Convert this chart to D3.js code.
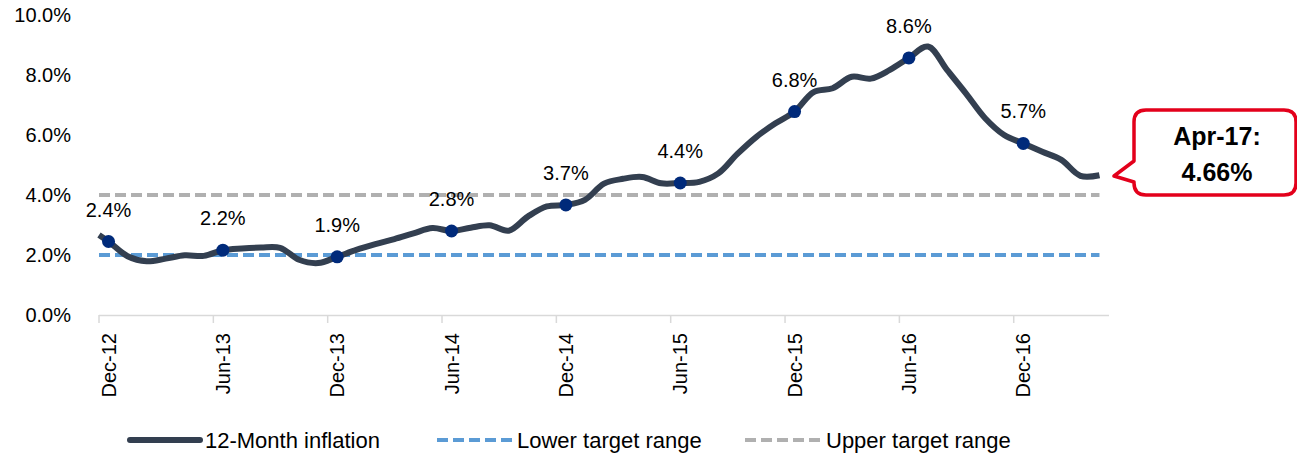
<!DOCTYPE html>
<html>
<head>
<meta charset="utf-8">
<script src="https://cdn.jsdelivr.net/npm/d3@7"></script>
<style>
  body { margin: 0; background: #fff; }
  svg { display: block; font-family: "Liberation Sans", Arial, sans-serif; }
</style>
</head>
<body>
<svg width="1297" height="453"></svg>
<script>
// monthly categories, Dec-12 .. Apr-17
const months = [
  'Dec-12','Jan-13','Feb-13','Mar-13','Apr-13','May-13','Jun-13','Jul-13','Aug-13','Sep-13','Oct-13','Nov-13',
  'Dec-13','Jan-14','Feb-14','Mar-14','Apr-14','May-14','Jun-14','Jul-14','Aug-14','Sep-14','Oct-14','Nov-14',
  'Dec-14','Jan-15','Feb-15','Mar-15','Apr-15','May-15','Jun-15','Jul-15','Aug-15','Sep-15','Oct-15','Nov-15',
  'Dec-15','Jan-16','Feb-16','Mar-16','Apr-16','May-16','Jun-16','Jul-16','Aug-16','Sep-16','Oct-16','Nov-16',
  'Dec-16','Jan-17','Feb-17','Mar-17','Apr-17'
]
const inflation = [
  2.45, 1.96, 1.79, 1.88, 1.99, 1.97, 2.16, 2.22, 2.25, 2.24, 1.84, 1.73,
  1.94, 2.17, 2.36, 2.53, 2.72, 2.90, 2.80, 2.91, 2.99, 2.81, 3.28, 3.62,
  3.67, 3.84, 4.38, 4.54, 4.60, 4.39, 4.40, 4.44, 4.72, 5.37, 5.94, 6.39,
  6.78, 7.43, 7.56, 7.94, 7.88, 8.17, 8.57, 8.95, 8.17, 7.38, 6.56, 6.00,
  5.72, 5.44, 5.17, 4.64, 4.66
]
const startValue = 2.67      // where the line enters at the left edge
const lowerTarget = 2.0
const upperTarget = 4.0
const tickLabels = ['Dec-12','Jun-13','Dec-13','Jun-14','Dec-14','Jun-15','Dec-15','Jun-16','Dec-16']
const pointLabels = ['2.4%','2.2%','1.9%','2.8%','3.7%','4.4%','6.8%','8.6%','5.7%']
const yTicks = [0, 2, 4, 6, 8, 10]
const seriesNames = ['12-Month inflation', 'Lower target range', 'Upper target range']
const callout = ['Apr-17:', '4.66%']

const svg = d3.select('svg')
const plotLeft = 99, plotRight = 1109, plotTop = 15, plotBottom = 315

const x = d3.scaleLinear().domain([0, months.length]).range([plotLeft, plotRight])
const y = d3.scaleLinear().domain([0, 10]).range([plotBottom, plotTop])
const xc = i => x(i + 0.5)

const fmt = d3.format('.1f')

// y axis labels
svg.append('g').selectAll('text')
  .data(yTicks).enter().append('text')
  .attr('x', 71).attr('y', d => y(d)).attr('dy', '0.35em')
  .attr('text-anchor', 'end')
  .attr('font-size', 20).attr('fill', '#000')
  .text(d => fmt(d) + '%')

// x axis
const xAxis = svg.append('g')
xAxis.append('line')
  .attr('x1', plotLeft).attr('x2', plotRight).attr('y1', plotBottom + 0.5).attr('y2', plotBottom + 0.5)
  .attr('stroke', '#d9d9d9').attr('stroke-width', 1.5)
xAxis.selectAll('.tick')
  .data(d3.range(0, months.length, 6)).enter().append('line')
  .attr('x1', d => x(d)).attr('x2', d => x(d))
  .attr('y1', plotBottom).attr('y2', plotBottom + 8)
  .attr('stroke', '#d9d9d9').attr('stroke-width', 1.5)
xAxis.selectAll('text')
  .data(tickLabels).enter().append('text')
  .attr('transform', d => `translate(${xc(months.indexOf(d))},333) rotate(-90)`)
  .attr('dy', '0.35em')
  .attr('text-anchor', 'end')
  .attr('font-size', 20).attr('fill', '#000')
  .text(d => d)

// series points: entry at the left edge, then one per month centre
const pts = [[x(0), startValue]].concat(inflation.map((v, i) => [xc(i), v]))

const targetLine = val => d3.line()([[x(0), y(val)], [xc(months.length - 1), y(val)]])

svg.append('path')
  .attr('d', targetLine(lowerTarget))
  .attr('fill', 'none').attr('stroke', '#5b9bd5').attr('stroke-width', 4)
  .attr('stroke-dasharray', '11,5')
svg.append('path')
  .attr('d', targetLine(upperTarget))
  .attr('fill', 'none').attr('stroke', '#b0b0b0').attr('stroke-width', 4)
  .attr('stroke-dasharray', '11,5')

const lineGen = d3.line()
  .x(d => d[0]).y(d => y(d[1]))
  .curve(d3.curveCatmullRom.alpha(0.5))

svg.append('path')
  .attr('d', lineGen(pts))
  .attr('fill', 'none').attr('stroke', '#333f50').attr('stroke-width', 6)
  .attr('stroke-linejoin', 'round').attr('stroke-linecap', 'butt')

// markers + labels every 6 months
const marked = d3.range(0, months.length, 6)
svg.append('g').selectAll('circle')
  .data(marked).enter().append('circle')
  .attr('cx', i => xc(i)).attr('cy', i => y(inflation[i]))
  .attr('r', 6.5).attr('fill', '#002a7a')
svg.append('g').selectAll('text')
  .data(marked).enter().append('text')
  .attr('x', i => xc(i)).attr('y', i => y(inflation[i]) - 32).attr('dy', '0.35em')
  .attr('text-anchor', 'middle')
  .attr('font-size', 20).attr('fill', '#000')
  .text((i, k) => pointLabels[k])

// callout
const bx0 = 1134, bx1 = 1296, by0 = 110, by1 = 195, r = 12
const p = d3.path()
p.moveTo(bx0 + r, by0)
p.lineTo(bx1 - r, by0)
p.quadraticCurveTo(bx1, by0, bx1, by0 + r)
p.lineTo(bx1, by1 - r)
p.quadraticCurveTo(bx1, by1, bx1 - r, by1)
p.lineTo(bx0 + r, by1)
p.quadraticCurveTo(bx0, by1, bx0, by1 - r)
p.lineTo(bx0, 182)
p.lineTo(1114, 176)
p.lineTo(bx0, 161)
p.lineTo(bx0, by0 + r)
p.quadraticCurveTo(bx0, by0, bx0 + r, by0)
p.closePath()
svg.append('path').attr('d', p.toString())
  .attr('fill', '#fff').attr('stroke', '#e3001b').attr('stroke-width', 3.5)
  .attr('stroke-linejoin', 'round')
svg.append('g').selectAll('text')
  .data(callout).enter().append('text')
  .attr('x', 1217).attr('y', (d, i) => 145 + i * 36)
  .attr('text-anchor', 'middle')
  .attr('font-size', 25).attr('font-weight', 'bold').attr('fill', '#000')
  .text(d => d)

// legend
const legend = [
  { x0: 130, x1: 200, tx: 205, color: '#333f50', w: 6, dash: null },
  { x0: 437, x1: 512, tx: 517, color: '#5b9bd5', w: 4, dash: '11,5' },
  { x0: 745, x1: 822, tx: 826, color: '#b0b0b0', w: 4, dash: '11,5' }
]
const lg = svg.append('g').selectAll('g').data(legend).enter().append('g')
lg.append('line')
  .attr('x1', d => d.x0).attr('x2', d => d.x1).attr('y1', 440).attr('y2', 440)
  .attr('stroke', d => d.color).attr('stroke-width', d => d.w)
  .attr('stroke-dasharray', d => d.dash)
  .attr('stroke-linecap', d => d.dash ? 'butt' : 'round')
lg.append('text')
  .attr('x', d => d.tx).attr('y', 440).attr('dy', '0.35em')
  .attr('font-size', 22).attr('fill', '#000')
  .text((d, i) => seriesNames[i])
</script>
</body>
</html>
